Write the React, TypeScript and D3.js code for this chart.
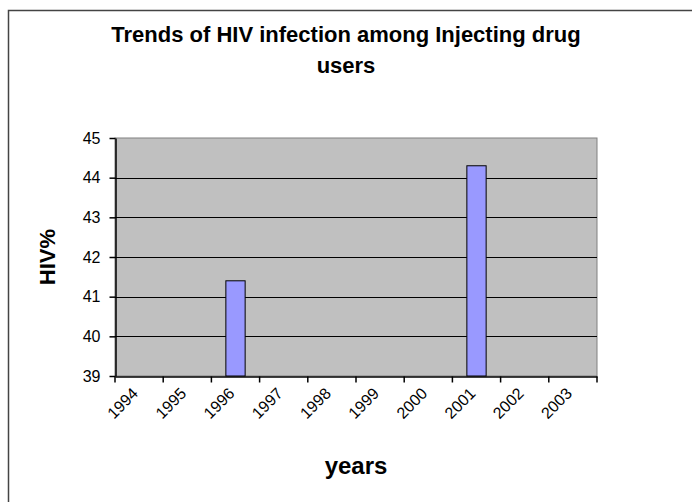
import { useEffect, useRef } from "react";
import * as d3 from "d3";

const years = ["1994", "1995", "1996", "1997", "1998", "1999", "2000", "2001", "2002", "2003"];
const hivValues: (number | null)[] = [null, null, 41.4, null, null, null, null, 44.3, null, null];
const yTicks = [39, 40, 41, 42, 43, 44, 45];

export default function App() {
  const ref = useRef<SVGSVGElement | null>(null);

  useEffect(() => {
    if (!ref.current) return;
    const svg = d3.select(ref.current);
    svg.selectAll("*").remove();

    const width = 692;
    const height = 502;
    const plot = { left: 115, right: 597, top: 138, bottom: 376 };
    const font = "Arial, 'Liberation Sans', sans-serif";

    svg.append("rect").attr("width", width).attr("height", height).attr("fill", "#fff");

    // chart border (runs off the picture on the right and bottom)
    svg
      .append("rect")
      .attr("x", 8.5)
      .attr("y", 10.5)
      .attr("width", 700)
      .attr("height", 500)
      .attr("fill", "none")
      .attr("stroke", "#444")
      .attr("stroke-width", 1.5);

    const x = d3.scaleBand().domain(years).range([plot.left, plot.right]).paddingInner(0).paddingOuter(0);
    const y = d3.scaleLinear().domain([39, 45]).range([plot.bottom, plot.top]);

    svg
      .append("rect")
      .attr("x", plot.left)
      .attr("y", plot.top)
      .attr("width", plot.right - plot.left)
      .attr("height", plot.bottom - plot.top)
      .attr("fill", "#c0c0c0")
      .attr("stroke", "#808080");

    // gridlines
    svg
      .append("g")
      .selectAll("line")
      .data(yTicks.filter((t) => t > 39 && t < 45))
      .join("line")
      .attr("x1", plot.left)
      .attr("x2", plot.right)
      .attr("y1", (d) => Math.round(y(d)) + 0.5)
      .attr("y2", (d) => Math.round(y(d)) + 0.5)
      .attr("stroke", "#000");

    // bars
    const barW = x.bandwidth() / 2.5;
    svg
      .append("g")
      .selectAll("rect")
      .data(years.map((yr, i) => ({ yr, v: hivValues[i] })).filter((d) => d.v !== null))
      .join("rect")
      .attr("x", (d) => (x(d.yr) ?? 0) + x.bandwidth() / 2 - barW / 2)
      .attr("y", (d) => y(d.v as number))
      .attr("width", barW)
      .attr("height", (d) => y(39) - y(d.v as number))
      .attr("fill", "#9999ff")
      .attr("stroke", "#000");

    // y axis
    const yAxis = svg
      .append("g")
      .attr("transform", `translate(${plot.left + 0.5},0)`)
      .call(
        d3
          .axisLeft(y)
          .tickValues(yTicks)
          .tickFormat(d3.format("d"))
          .tickSize(6)
          .tickSizeOuter(0)
          .tickPadding(9)
      );
    yAxis.select(".domain").attr("stroke", "#000").attr("stroke-width", 1.5);
    yAxis.selectAll("line").attr("stroke", "#000").attr("stroke-width", 1.5);
    yAxis
      .selectAll("text")
      .attr("font-family", font)
      .attr("font-size", 16)
      .attr("fill", "#000");

    // x axis
    const xAxis = svg
      .append("g")
      .attr("transform", `translate(0,${plot.bottom + 0.5})`)
      .call(d3.axisBottom(x).tickSize(0).tickSizeOuter(0));
    xAxis.select(".domain").attr("stroke", "#000").attr("stroke-width", 1.5);
    xAxis.selectAll(".tick line").remove();
    xAxis
      .selectAll(".boundary")
      .data(d3.range(years.length + 1))
      .join("line")
      .attr("class", "boundary")
      .attr("x1", (i) => plot.left + i * x.step())
      .attr("x2", (i) => plot.left + i * x.step())
      .attr("y1", 0)
      .attr("y2", 6)
      .attr("stroke", "#000")
      .attr("stroke-width", 1.5);
    xAxis
      .selectAll(".tick text")
      .attr("font-family", font)
      .attr("font-size", 16)
      .attr("fill", "#000")
      .attr("text-anchor", "end")
      .attr("dy", "0.7em")
      .attr("transform", "translate(-10,8) rotate(-45)");

    // titles
    const cx = 346;
    const title = svg
      .append("text")
      .attr("text-anchor", "middle")
      .attr("font-family", font)
      .attr("font-weight", "bold")
      .attr("font-size", 22);
    title.append("tspan").attr("x", cx).attr("y", 42).text("Trends of HIV infection among Injecting drug");
    title.append("tspan").attr("x", cx).attr("y", 73).text("users");

    svg
      .append("text")
      .attr("transform", `translate(55,${(plot.top + plot.bottom) / 2}) rotate(-90)`)
      .attr("text-anchor", "middle")
      .attr("font-family", font)
      .attr("font-weight", "bold")
      .attr("font-size", 22)
      .text("HIV%");

    svg
      .append("text")
      .attr("x", (plot.left + plot.right) / 2)
      .attr("y", 474)
      .attr("text-anchor", "middle")
      .attr("font-family", font)
      .attr("font-weight", "bold")
      .attr("font-size", 24)
      .text("years");
  }, []);

  return (
    <div style={{ position: "absolute", left: 0, top: 0 }}>
      <svg ref={ref} width={692} height={502} style={{ display: "block" }} />
    </div>
  );
}
